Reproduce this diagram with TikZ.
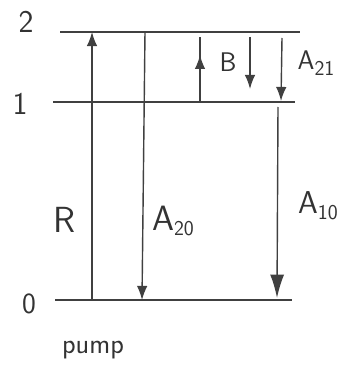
\documentclass[tikz,border=0pt]{standalone}
\usepackage{fontspec}
\usetikzlibrary{arrows.meta,decorations.markings}

\newcommand{\lvsub}[1]{\raisebox{-5pt}{\fontsize{18}{18}\selectfont #1}}

\tikzset{
  level/.style={line width=1.3pt, draw=black!75},
  trans/.style={line width=1.2pt, draw=black!75,
    -{Latex[length=12pt,width=9pt]}},
  midtip/.style={line width=1.2pt, draw=black!75, postaction={decorate},
    decoration={markings, mark=at position #1 with {\arrow{Latex[length=12pt,width=9pt]}}}},
  lbl/.style={font=\sffamily\fontsize{#1}{#1}\selectfont, text=black!80, inner sep=0pt},
  lbl/.default=27,
}

\begin{document}
\begin{tikzpicture}[x=0.03cm, y=-0.03cm]
  \useasboundingbox (0,0) rectangle (342,370);

  % levels
  \coordinate (l2a) at (60,32);
  \coordinate (l2b) at (300,32);
  \coordinate (l1a) at (53,102);
  \coordinate (l1b) at (295,102);
  \coordinate (l0a) at (55,300);
  \coordinate (l0b) at (292,300);

  \node[lbl=27] (n2) at (26,22) {2};
  \node[lbl=27] (n1) at (20,104) {1};
  \node[lbl=25] (n0) at (29,304) {0};

  \draw[level] (l2a) -- (l2b);
  \draw[level] (l1a) -- (l1b);
  \draw[level] (l0a) -- (l0b);

  % transitions
  \coordinate (r0) at (92,300);
  \coordinate (r2) at (92,32);
  \coordinate (a20top) at (145,32);
  \coordinate (a20bot) at (142,300);
  \coordinate (bup0) at (200,101);
  \coordinate (bup1) at (200,37);
  \coordinate (bdn0) at (250,37);
  \coordinate (bdn1) at (250,89);
  \coordinate (a21top) at (282,38);
  \coordinate (a21bot) at (281,101);
  \coordinate (a10top) at (278,107);
  \coordinate (a10bot) at (277,298);

  \draw[trans] (r0) -- (r2);
  \draw[trans] (a20top) -- (a20bot);
  \draw[midtip=0.72] (bup0) -- (bup1);
  \draw[trans] (bdn0) -- (bdn1);
  \draw[trans] (a21top) -- (a21bot);
  \draw[line width=1.2pt, draw=black!75, -{Latex[length=20pt,width=12pt]}] (a10top) -- (a10bot);

  % labels
  \node[lbl=31] (lR) at (65,220) {R};
  \node[lbl=30] (lA20) at (173,221) {A\lvsub{20}};
  \node[lbl=23] (lB) at (228,62) {B};
  \node[lbl=23] (lA21) at (316,63) {A\lvsub{21}};
  \node[lbl=27] (lA10) at (318,206) {A\lvsub{10}};
  \node[lbl=24] (pump) at (93,350) {pump};
\end{tikzpicture}
\end{document}
